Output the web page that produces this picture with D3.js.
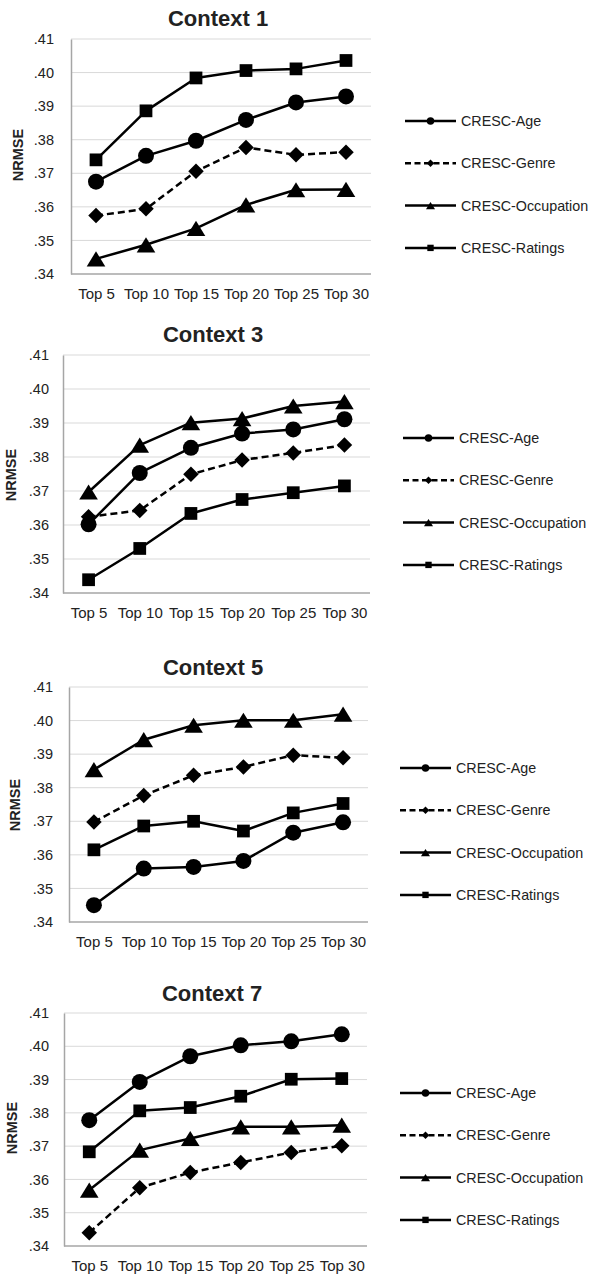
<!DOCTYPE html>
<html>
<head>
<meta charset="utf-8">
<script src="https://cdn.jsdelivr.net/npm/d3@7"></script>
<style>
  html, body { margin: 0; padding: 0; background: #fff; }
  svg { display: block; }
  text { font-family: "Liberation Sans", Arial, sans-serif; fill: #222; }
</style>
</head>
<body>
<svg id="chart" width="593" height="1280"></svg>
<script>
// Categories, tick values and series
const categories = ["Top 5", "Top 10", "Top 15", "Top 20", "Top 25", "Top 30"];
const yTicks = [0.34, 0.35, 0.36, 0.37, 0.38, 0.39, 0.40, 0.41];
const contextTitles = ["Context 1", "Context 3", "Context 5", "Context 7"];
const seriesNames = ["CRESC-Age", "CRESC-Genre", "CRESC-Occupation", "CRESC-Ratings"];

// One row per context panel (1, 3, 5, 7)
const ageValues = [
  [0.3675, 0.3752, 0.3797, 0.3859, 0.3911, 0.3929],
  [0.3602, 0.3753, 0.3827, 0.3869, 0.3881, 0.3911],
  [0.3450, 0.3559, 0.3564, 0.3582, 0.3666, 0.3697],
  [0.3778, 0.3893, 0.3970, 0.4003, 0.4015, 0.4036]
];
const genreValues = [
  [0.3574, 0.3594, 0.3706, 0.3777, 0.3755, 0.3763],
  [0.3624, 0.3643, 0.3749, 0.3791, 0.3812, 0.3835],
  [0.3698, 0.3777, 0.3837, 0.3862, 0.3897, 0.3889],
  [0.3440, 0.3575, 0.3621, 0.3651, 0.3681, 0.3701]
];
const occupationValues = [
  [0.3445, 0.3487, 0.3536, 0.3606, 0.3651, 0.3652],
  [0.3697, 0.3835, 0.3901, 0.3913, 0.3950, 0.3963],
  [0.3854, 0.3943, 0.3986, 0.4001, 0.4001, 0.4019],
  [0.3568, 0.3688, 0.3723, 0.3758, 0.3758, 0.3763]
];
const ratingsValues = [
  [0.3740, 0.3886, 0.3984, 0.4006, 0.4011, 0.4036],
  [0.3439, 0.3531, 0.3634, 0.3675, 0.3695, 0.3715],
  [0.3615, 0.3686, 0.3700, 0.3671, 0.3725, 0.3753],
  [0.3683, 0.3806, 0.3816, 0.3850, 0.3901, 0.3903]
];

// Panel geometry
const panels = [
  { left: 71, right: 371, top: 39, bottom: 274, titleX: 218, titleY: 26, ylabX: 18, ylabY: 155, tickGap: 17, legLine: 405, legY: 121 },
  { left: 63, right: 370, top: 355, bottom: 593, titleX: 213, titleY: 342, ylabX: 11, ylabY: 475, tickGap: 14, legLine: 403, legY: 438 },
  { left: 69, right: 368, top: 687, bottom: 922, titleX: 213, titleY: 675, ylabX: 15, ylabY: 805, tickGap: 16, legLine: 400, legY: 768 },
  { left: 64, right: 367, top: 1013, bottom: 1246, titleX: 212, titleY: 1001, ylabX: 12, ylabY: 1128, tickGap: 15, legLine: 400, legY: 1093 }
];

const markerKinds = ["circle", "diamond", "triangle", "square"];
const dashed = [false, true, false, false];

function markerPath(kind, s) {
  // s is the nominal marker width; shapes centred on their bounding box
  const h = s / 2;
  switch (kind) {
    case "circle": {
      const p = d3.path(); p.arc(0, 0, h, 0, 2 * Math.PI); p.closePath(); return p.toString();
    }
    case "diamond": return `M0,${-h}L${h},0L0,${h}L${-h},0Z`;
    case "triangle": {
      const w = s * 1.2 / 2, t = s * 0.98 / 2;
      return `M0,${-t}L${w},${t}L${-w},${t}Z`;
    }
    case "square": {
      const q = h * 0.85;
      return `M${-q},${-q}H${q}V${q}H${-q}Z`;
    }
  }
}

const svg = d3.select("#chart");

panels.forEach((pn, i) => {
  const g = svg.append("g");
  const x = d3.scalePoint().domain(categories).range([pn.left, pn.right]).padding(0.5);
  const y = d3.scaleLinear().domain([0.34, 0.41]).range([pn.bottom, pn.top]);

  // gridlines
  g.append("g").selectAll("line").data(yTicks.slice(1)).join("line")
    .attr("x1", pn.left).attr("x2", pn.right)
    .attr("y1", d => y(d)).attr("y2", d => y(d))
    .attr("stroke", "#d9d9d9").attr("stroke-width", 1);

  // y axis
  const yAxis = d3.axisLeft(y).tickValues(yTicks).tickSize(0).tickPadding(pn.tickGap)
    .tickFormat(d => d3.format(".2f")(d).replace(/^0/, ""));
  const ya = g.append("g").attr("transform", `translate(${pn.left},0)`).call(yAxis);
  ya.select(".domain").attr("stroke", "#a6a6a6").attr("stroke-width", 1.5);
  ya.selectAll("text").attr("font-size", 14.5).attr("fill", "#222")
    .attr("font-family", "Liberation Sans, Arial, sans-serif");

  // x axis
  const xAxis = d3.axisBottom(x).tickSize(0).tickPadding(14);
  const xa = g.append("g").attr("transform", `translate(0,${pn.bottom})`).call(xAxis);
  xa.select(".domain").attr("stroke", "#a6a6a6").attr("stroke-width", 1.5)
    .attr("d", `M${pn.left},0H${pn.right}`);
  xa.selectAll("text").attr("font-size", 15).attr("fill", "#222")
    .attr("font-family", "Liberation Sans, Arial, sans-serif");

  // title
  g.append("text").attr("x", pn.titleX).attr("y", pn.titleY)
    .attr("text-anchor", "middle").attr("font-size", 22).attr("font-weight", "bold")
    .attr("fill", "#111").text(contextTitles[i]);

  // y label
  g.append("text").attr("transform", `translate(${pn.ylabX},${pn.ylabY}) rotate(-90)`)
    .attr("text-anchor", "middle").attr("dominant-baseline", "central")
    .attr("font-size", 14.5).attr("font-weight", "bold").attr("fill", "#111").text("NRMSE");

  const seriesData = [ageValues[i], genreValues[i], occupationValues[i], ratingsValues[i]];
  const line = d3.line().x((d, k) => x(categories[k])).y(d => y(d));

  seriesData.forEach((vals, s) => {
    g.append("path").datum(vals).attr("d", line)
      .attr("fill", "none").attr("stroke", "#000").attr("stroke-width", 2.5)
      .attr("stroke-linejoin", "round")
      .attr("stroke-dasharray", dashed[s] ? "7,4" : null);
    const size = { circle: 16, diamond: 15.5, triangle: 15.5, square: 15 }[markerKinds[s]];
    g.append("g").selectAll("path").data(vals).join("path")
      .attr("transform", (d, k) => `translate(${x(categories[k])},${y(d)})`)
      .attr("d", markerPath(markerKinds[s], size))
      .attr("fill", "#000");
  });

  // legend
  const leg = g.append("g");
  seriesNames.forEach((name, s) => {
    const ly = pn.legY + s * 42.3;
    leg.append("line").attr("x1", pn.legLine).attr("x2", pn.legLine + 51)
      .attr("y1", ly).attr("y2", ly).attr("stroke", "#000").attr("stroke-width", 2.5)
      .attr("stroke-dasharray", dashed[s] ? "6,3.5" : null);
    leg.append("path").attr("transform", `translate(${pn.legLine + 25.5},${ly})`)
      .attr("d", markerPath(markerKinds[s], 7.5)).attr("fill", "#000");
    leg.append("text").attr("x", pn.legLine + 56).attr("y", ly)
      .attr("dominant-baseline", "central").attr("font-size", 14.3).attr("fill", "#222")
      .text(name);
  });
});
</script>
</body>
</html>
